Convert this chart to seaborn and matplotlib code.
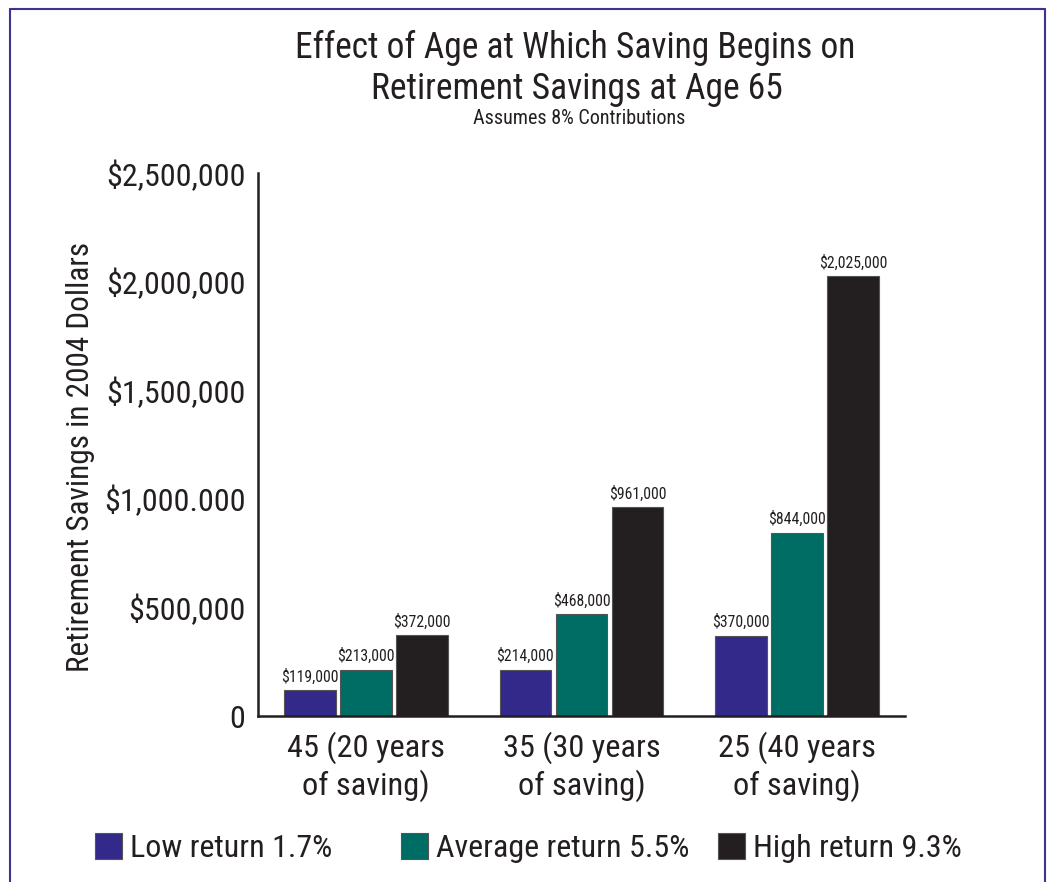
import matplotlib
matplotlib.use("Agg")
import matplotlib.pyplot as plt
import seaborn as sns
import pandas as pd
from matplotlib.lines import Line2D
from matplotlib.patches import Patch

categories = ["45 (20 years\nof saving)", "35 (30 years\nof saving)", "25 (40 years\nof saving)"]
series = ["Low return 1.7%", "Average return 5.5%", "High return 9.3%"]
low = [119000, 214000, 370000]
avg = [213000, 468000, 844000]
high = [372000, 961000, 2025000]
bar_labels_low = ["$119,000", "$214,000", "$370,000"]
bar_labels_avg = ["$213,000", "$468,000", "$844,000"]
bar_labels_high = ["$372,000", "$961,000", "$2,025,000"]
yticks = [0, 500000, 1000000, 1500000, 2000000, 2500000]
ytick_labels = ["0", "$500,000", "$1,000.000", "$1,500,000", "$2,000,000", "$2,500,000"]
colors = ["#33298a", "#006d64", "#231f20"]

sns.set_style("white")
plt.rcParams["font.family"] = ["Roboto Condensed", "Archivo Narrow", "PT Sans Narrow", "DejaVu Sans"]

rows = []
for vals, s in zip([low, avg, high], series):
    for c, v in zip(categories, vals):
        rows.append({"cat": c, "series": s, "value": v})
df = pd.DataFrame(rows)

fig = plt.figure(figsize=(10.48, 8.82), dpi=100)
ax = fig.add_axes([258/1048, 1-716/882, 647/1048, 543/882])

sns.barplot(data=df, x="cat", y="value", hue="series", order=categories,
            hue_order=series, palette=colors, saturation=1, width=0.78, gap=0.08,
            edgecolor="#555555", linewidth=0.8, ax=ax, legend=False)

label_sets = [bar_labels_low, bar_labels_avg, bar_labels_high]
for cont, labs in zip(ax.containers, label_sets):
    ax.bar_label(cont, labels=labs, padding=4, fontsize=11.3, color="#231f20")

ax.set_xlim(-0.5, 2.5)
ax.set_ylim(0, 2500000)
ax.set_yticks(yticks)
ax.set_yticklabels(ytick_labels, fontsize=23, color="#231f20")
ax.set_xticks([0.5, 1.5, 2.5], minor=False)
ax.set_xticklabels(["", "", ""])
ax.set_xticks([0, 1, 2], minor=True)
ax.set_xticklabels(categories, minor=True, fontsize=23.3, color="#231f20", linespacing=1.2)
ax.tick_params(axis="y", direction="in", length=11, width=1.8, color="#231f20", pad=9)
ax.tick_params(axis="x", which="major", direction="in", length=9, width=1.8, color="#231f20")
ax.tick_params(axis="x", which="minor", length=0, pad=11)
ax.set_xlabel("")
ax.set_ylabel("Retirement Savings in 2004 Dollars", fontsize=22.5, color="#231f20")
ax.yaxis.set_label_coords((95 - 258) / 647, 1 - (457 - 173) / 543)
for s in ["top", "right"]:
    ax.spines[s].set_visible(False)
for s in ["left", "bottom"]:
    ax.spines[s].set_color("#231f20")
    ax.spines[s].set_linewidth(1.8)

fig.text(575/1048, 1-48/882, "Effect of Age at Which Saving Begins on", ha="center", va="center", fontsize=25.6, color="#231f20")
fig.text(577/1048, 1-89/882, "Retirement Savings at Age 65", ha="center", va="center", fontsize=25.6, color="#231f20")
fig.text(579/1048, 1-118/882, "Assumes 8% Contributions", ha="center", va="center", fontsize=14.5, color="#231f20")

anchors = [95, 401, 718]
for c, s, x0 in zip(colors, series, anchors):
    h = Patch(facecolor=c, edgecolor="#555555", linewidth=0.8)
    fig.legend([h], [s], loc="center left", bbox_to_anchor=(x0/1048, 1-848/882),
               frameon=False, fontsize=23, handlelength=0.85, handleheight=0.85,
               handletextpad=0.25, borderpad=0, borderaxespad=0, labelcolor="#231f20")

bc = "#3b3494"
fig.add_artist(Line2D([10/1048, 10/1048], [0, 1-9/882], color=bc, lw=1.5))
fig.add_artist(Line2D([10/1048, 1045/1048], [1-9/882, 1-9/882], color=bc, lw=1.5))
fig.add_artist(Line2D([1045/1048, 1045/1048], [0, 1-9/882], color=bc, lw=1.5))

fig.savefig("out.png", dpi=100)
